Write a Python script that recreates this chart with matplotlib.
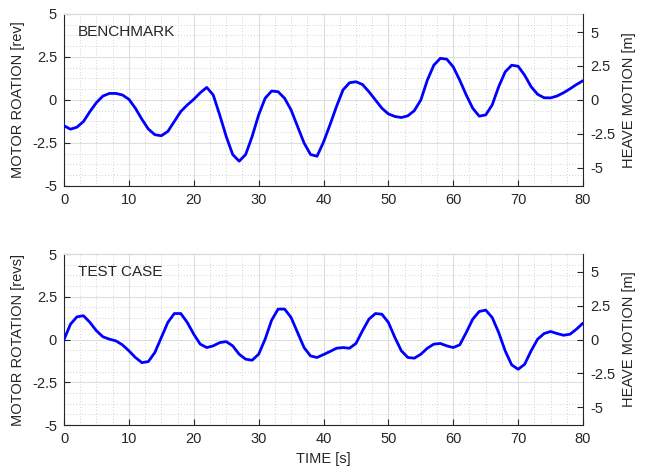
# %% Imports
import matplotlib

matplotlib.use("Agg")
import matplotlib.pyplot as plt
import numpy as np
from matplotlib.ticker import MultipleLocator

# %%
# Data (one sample per second)
# ------------------------------------------

time_s = np.arange(0, 81)

benchmark_rev = [
    -1.50, -1.70, -1.58, -1.25, -0.67, -0.15, 0.23, 0.38, 0.38, 0.29,
    0.04, -0.48, -1.12, -1.69, -2.02, -2.08, -1.83, -1.25, -0.67, -0.29,
    0.04, 0.42, 0.73, 0.29, -0.87, -2.12, -3.17, -3.56, -3.17, -2.12,
    -0.87, 0.10, 0.52, 0.48, 0.10, -0.58, -1.54, -2.50, -3.17, -3.27,
    -2.45, -1.44, -0.38, 0.58, 1.00, 1.06, 0.90, 0.48, 0.00, -0.48,
    -0.81, -0.96, -1.02, -0.92, -0.62, 0.00, 1.15, 2.02, 2.42, 2.37,
    1.92, 1.15, 0.29, -0.48, -0.94, -0.87, -0.29, 0.77, 1.63, 2.02,
    1.96, 1.44, 0.77, 0.33, 0.13, 0.12, 0.23, 0.42, 0.65, 0.90,
    1.12,
]

test_case_rev = [
    0.00, 0.90, 1.33, 1.39, 1.00, 0.51, 0.16, 0.02, -0.08, -0.31,
    -0.66, -1.05, -1.35, -1.29, -0.76, 0.12, 1.00, 1.52, 1.52, 1.00,
    0.31, -0.27, -0.47, -0.37, -0.18, -0.12, -0.37, -0.86, -1.15, -1.21,
    -0.86, 0.02, 1.13, 1.78, 1.78, 1.29, 0.41, -0.47, -0.96, -1.05,
    -0.88, -0.70, -0.51, -0.47, -0.51, -0.23, 0.51, 1.19, 1.52, 1.48,
    1.00, 0.12, -0.66, -1.05, -1.09, -0.86, -0.51, -0.27, -0.23, -0.37,
    -0.47, -0.31, 0.41, 1.19, 1.64, 1.72, 1.29, 0.41, -0.66, -1.48,
    -1.74, -1.45, -0.66, 0.02, 0.35, 0.47, 0.35, 0.25, 0.31, 0.61,
    0.96,
]

y_ticks = [-5, -2.5, 0, 2.5, 5]
y_tick_labels = ["-5", "-2.5", "0", "2.5", "5"]
x_ticks = [0, 10, 20, 30, 40, 50, 60, 70, 80]

# right axis is the heave motion scale
heave_lim = 6.33

# %%
# Plot
# ------------------------------------------

plt.rcParams["font.family"] = ["Liberation Sans", "DejaVu Sans"]
plt.rcParams["font.size"] = 10.5

dark = "#262626"

fig = plt.figure(figsize=(6.46, 4.70), dpi=100)


def make_panel(rect, values, label, left_label):
    ax = fig.add_axes(rect)
    ax.plot(time_s, values, color="#0000ff", lw=2.0, zorder=3,
            solid_joinstyle="round", solid_capstyle="round")

    ax.set_xlim(0, 80)
    ax.set_ylim(-5, 5)
    ax.set_xticks(x_ticks)
    ax.set_yticks(y_ticks)
    ax.set_yticklabels(y_tick_labels)
    ax.xaxis.set_minor_locator(MultipleLocator(2.5))
    ax.yaxis.set_minor_locator(MultipleLocator(0.625))

    ax.grid(which="major", color="#dedede", lw=0.8)
    ax.grid(which="minor", color="#c4c4c4", lw=0.6, ls=(0, (1, 2.5)))
    ax.set_axisbelow(True)

    ax.tick_params(which="major", direction="in", length=4, color=dark,
                   labelcolor=dark, top=False, right=False, pad=5)
    ax.tick_params(which="minor", length=0)

    for side in ["left", "bottom"]:
        ax.spines[side].set_color(dark)
    ax.spines["top"].set_color("#d9d9d9")
    ax.spines["right"].set_visible(False)

    ax.set_ylabel(left_label, color=dark, fontsize=10.5, labelpad=5)
    ax.text(0.027, 0.895, label, transform=ax.transAxes, ha="left",
            va="center", color=dark, fontsize=11)

    ax2 = ax.twinx()
    ax2.set_ylim(-heave_lim, heave_lim)
    ax2.set_yticks(y_ticks)
    ax2.set_yticklabels(y_tick_labels)
    ax2.tick_params(direction="in", length=4, color=dark, labelcolor=dark,
                    pad=5)
    for side in ["left", "top", "bottom"]:
        ax2.spines[side].set_visible(False)
    ax2.spines["right"].set_color(dark)
    ax2.set_ylabel("HEAVE MOTION [m]", color=dark, fontsize=10.5, labelpad=5)
    return ax


ax_top = make_panel([0.0991, 0.6043, 0.8034, 0.366], benchmark_rev,
                    "BENCHMARK", "MOTOR ROATION [rev]")
ax_bot = make_panel([0.0991, 0.0957, 0.8034, 0.3638], test_case_rev,
                    "TEST CASE", "MOTOR ROTATION [revs]")
ax_bot.set_xlabel("TIME [s]", color=dark, fontsize=10.5, labelpad=4)

fig.savefig("out.png", dpi=100)
